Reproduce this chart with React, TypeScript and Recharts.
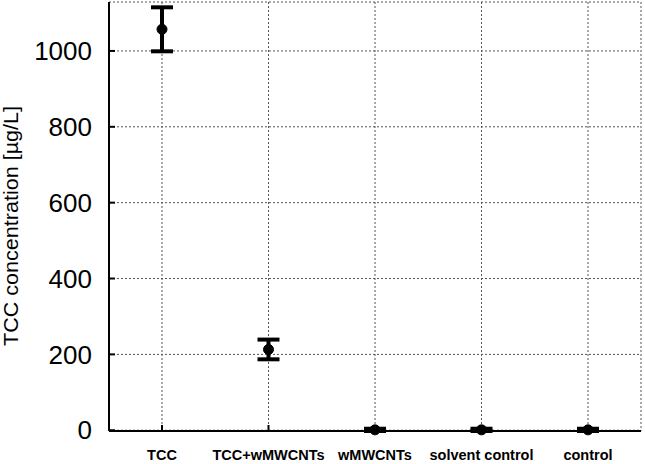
import React from 'react';
import {
  ComposedChart,
  Line,
  ErrorBar,
  XAxis,
  YAxis,
  CartesianGrid,
} from 'recharts';

const categories = ['TCC', 'TCC+wMWCNTs', 'wMWCNTs', 'solvent control', 'control'];
const means = [1057, 213, 1, 1, 1];
const errors = [58, 26, 3, 3, 3];
const yTicks = [0, 200, 400, 600, 800, 1000];

const data = categories.map((c, i) => ({ name: c, mean: means[i], err: errors[i] }));

const FONT = '"Liberation Sans", Arial, Helvetica, sans-serif';

const YLabel = (props: any) => {
  const vb = props.viewBox || { x: 0, y: 0, width: 0, height: 0 };
  const x = vb.x + 18;
  const y = vb.y + vb.height / 2 + 9.5;
  return (
    <text
      x={x}
      y={y}
      transform={`rotate(-90, ${x}, ${y})`}
      textAnchor="middle"
      fill="#000"
      fontSize={20}
      fontFamily={FONT}
      textLength={240}
      lengthAdjust="spacingAndGlyphs"
    >
      TCC concentration [µg/L]
    </text>
  );
};

export default function App() {
  return (
    <div style={{ position: 'absolute', left: 0, top: 0, background: '#fff' }}>
      <ComposedChart
        width={645}
        height={464}
        data={data}
        margin={{ top: 2, right: 4, bottom: 0, left: 0 }}
      >
        <CartesianGrid
          xAxisId="b"
          yAxisId="l"
          stroke="#555"
          strokeDasharray="2 2"
          strokeWidth={1}
        />
        <XAxis
          xAxisId="b"
          dataKey="name"
          type="category"
          padding={{ left: 53, right: 53 }}
          height={33}
          axisLine={{ stroke: '#000', strokeWidth: 2 }}
          tickLine={{ stroke: '#000', strokeWidth: 2 }}
          tickSize={-6}
          tickMargin={25}
          interval={0}
          tick={{ fill: '#000', fontSize: 14.5, fontWeight: 'bold', fontFamily: FONT }}
        />
        <XAxis
          xAxisId="t"
          dataKey="name"
          type="category"
          padding={{ left: 53, right: 53 }}
          orientation="top"
          height={0}
          mirror
          axisLine={{ stroke: '#000', strokeWidth: 2 }}
          tickLine={{ stroke: '#000', strokeWidth: 2 }}
          tickSize={6}
          interval={0}
          tick={false}
        />
        <YAxis
          yAxisId="l"
          type="number"
          domain={[0, 1129]}
          ticks={yTicks}
          width={109}
          axisLine={{ stroke: '#000', strokeWidth: 2 }}
          tickLine={{ stroke: '#000', strokeWidth: 2 }}
          tickSize={-6}
          tickMargin={23}
          tick={{ fill: '#000', fontSize: 26, fontFamily: FONT }}
          label={<YLabel />}
        />
        <YAxis
          yAxisId="r"
          type="number"
          orientation="right"
          domain={[0, 1129]}
          ticks={yTicks}
          width={0}
          mirror
          axisLine={{ stroke: '#000', strokeWidth: 2 }}
          tickLine={{ stroke: '#000', strokeWidth: 2 }}
          tickSize={6}
          tick={false}
        />
        <Line
          xAxisId="b"
          yAxisId="l"
          dataKey="mean"
          stroke="none"
          isAnimationActive={false}
          dot={{ r: 5, fill: '#000', stroke: '#000', strokeWidth: 1 }}
          activeDot={false}
        >
          <ErrorBar
            dataKey="err"
            width={11}
            stroke="#000"
            strokeWidth={4}
            direction="y"
            isAnimationActive={false}
          />
        </Line>
      </ComposedChart>
    </div>
  );
}
